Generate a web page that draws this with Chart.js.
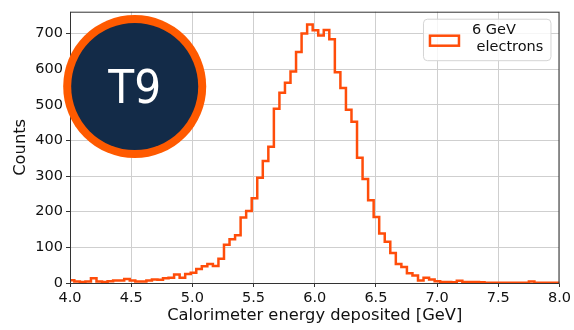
<!DOCTYPE html>
<html>
<head>
<meta charset="utf-8">
<script src="https://cdn.jsdelivr.net/npm/chart.js@4.4.1/dist/chart.umd.min.js"></script>
<style>
  body { margin: 0; background: #fff; }
  #wrap { position: relative; width: 574px; height: 330px; }
</style>
</head>
<body>
<div id="wrap"><canvas id="miCanvas" width="574" height="330"></canvas></div>
<script>
// histograma: borde izquierdo del primer bin y ancho de bin (GeV)
const binStart = 3.99;
const binWidth = 0.0453;
const counts = [
  8, 4, 3, 4, 13, 4, 3, 5, 7, 7,
  11, 7, 4, 4, 7, 10, 9, 13, 15, 24,
  15, 25, 29, 39, 47, 53, 48, 68, 107, 123,
  134, 184, 202, 238, 295, 342, 382, 489, 534, 562,
  593, 648, 700, 725, 709, 694, 710, 684, 591, 547,
  486, 452, 351, 292, 232, 185, 139, 116, 84, 53,
  45, 27, 21, 7, 15, 10, 5, 3, 3, 2,
  6, 3, 3, 3, 2, 1, 1, 1, 1, 1,
  1, 1, 1, 4, 1, 1, 1, 1, 1
];
const xTicks = [4.0, 4.5, 5.0, 5.5, 6.0, 6.5, 7.0, 7.5, 8.0];
const yTicks = [0, 100, 200, 300, 400, 500, 600, 700];
const seriesLabel = ["6 GeV", " electrons"];
const logoText = "T9";

const naranja = "#ff4d0a";
const fuente = "'DejaVu Sans', sans-serif";

// puntos en el borde izquierdo de cada bin + borde final
const puntos = counts.map((c, i) => ({ x: binStart + i * binWidth, y: c }));
puntos.push({ x: binStart + counts.length * binWidth, y: counts[counts.length - 1] });

// marco, leyenda y logo
const extras = {
  id: "extras",
  afterDraw(chart) {
    const ctx = chart.ctx;
    const a = chart.chartArea;
    ctx.save();
    // marco
    ctx.strokeStyle = "#333";
    ctx.lineWidth = 1;
    ctx.strokeRect(a.left + 0.5, a.top + 0.5, a.right - a.left - 1, a.bottom - a.top);

    // leyenda
    const bx = a.right - 136, by = a.top + 7.5, bw = 127.5, bh = 41.5;
    ctx.beginPath();
    ctx.roundRect(bx, by, bw, bh, 4);
    ctx.fillStyle = "rgba(255,255,255,0.8)";
    ctx.fill();
    ctx.strokeStyle = "#d4d4d4";
    ctx.lineWidth = 1;
    ctx.stroke();
    ctx.strokeStyle = naranja;
    ctx.lineWidth = 2.5;
    ctx.strokeRect(bx + 6.5, by + 16.5, 29, 10);
    ctx.fillStyle = "#111";
    ctx.font = "14.5px " + fuente;
    ctx.textBaseline = "middle";
    ctx.textAlign = "left";
    ctx.fillText(seriesLabel[0], bx + 48.5, by + 11);
    ctx.fillText(seriesLabel[1], bx + 48.5, by + 28);

    // logo
    const cx = 134.7, cy = 86.5;
    ctx.beginPath();
    ctx.arc(cx, cy, 71.5, 0, Math.PI * 2);
    ctx.fillStyle = "#ff5a00";
    ctx.fill();
    ctx.beginPath();
    ctx.arc(cx, cy, 63.5, 0, Math.PI * 2);
    ctx.fillStyle = "#132b48";
    ctx.fill();
    ctx.fillStyle = "#fff";
    ctx.font = "47px 'Liberation Sans Narrow', 'DejaVu Sans Condensed', sans-serif";
    ctx.textAlign = "center";
    ctx.textBaseline = "alphabetic";
    ctx.fillText(logoText, cx, cy + 16);
    ctx.restore();
  },
};

const ctx = document.getElementById("miCanvas");
const myChart = new Chart(ctx, {
  type: "line",
  data: {
    datasets: [
      {
        label: seriesLabel.join(""),
        data: puntos,
        stepped: "before", // horizontal primero, luego el salto
        borderColor: naranja,
        borderWidth: 2.5,
        pointRadius: 0,
        fill: false,
        clip: 0,
      },
    ],
  },
  options: {
    responsive: false,
    animation: false,
    layout: { padding: { top: 4, right: 14, left: 0, bottom: 0 } },
    plugins: {
      legend: { display: false },
      tooltip: { enabled: false },
    },
    scales: {
      x: {
        type: "linear",
        min: 4,
        max: 8,
        afterBuildTicks: (axis) => { axis.ticks = xTicks.map((v) => ({ value: v })); },
        afterFit: (scale) => { scale.height = 47; },
        ticks: {
          callback: (v) => Number(v).toFixed(1),
          color: "#111",
          font: { family: fuente, size: 14.5 },
          padding: 3,
          maxRotation: 0,
        },
        grid: { color: "#cfcfcf", tickColor: "#333", tickLength: 4 },
        border: { display: false },
        title: {
          display: true,
          text: "Calorimeter energy deposited [GeV]",
          color: "#111",
          font: { family: fuente, size: 16.3 },
          padding: { top: 0, bottom: 4 },
        },
      },
      y: {
        min: 0,
        max: 761,
        afterBuildTicks: (axis) => { axis.ticks = yTicks.map((v) => ({ value: v })); },
        afterFit: (scale) => { scale.width = 70; },
        ticks: {
          color: "#111",
          font: { family: fuente, size: 14.5 },
          padding: 3,
        },
        grid: { color: "#cfcfcf", tickColor: "#333", tickLength: 4 },
        border: { display: false },
        title: {
          display: true,
          text: "Counts",
          color: "#111",
          font: { family: fuente, size: 16.3 },
          padding: { top: 11, bottom: 0 },
        },
      },
    },
  },
  plugins: [extras],
});
</script>
</body>
</html>
